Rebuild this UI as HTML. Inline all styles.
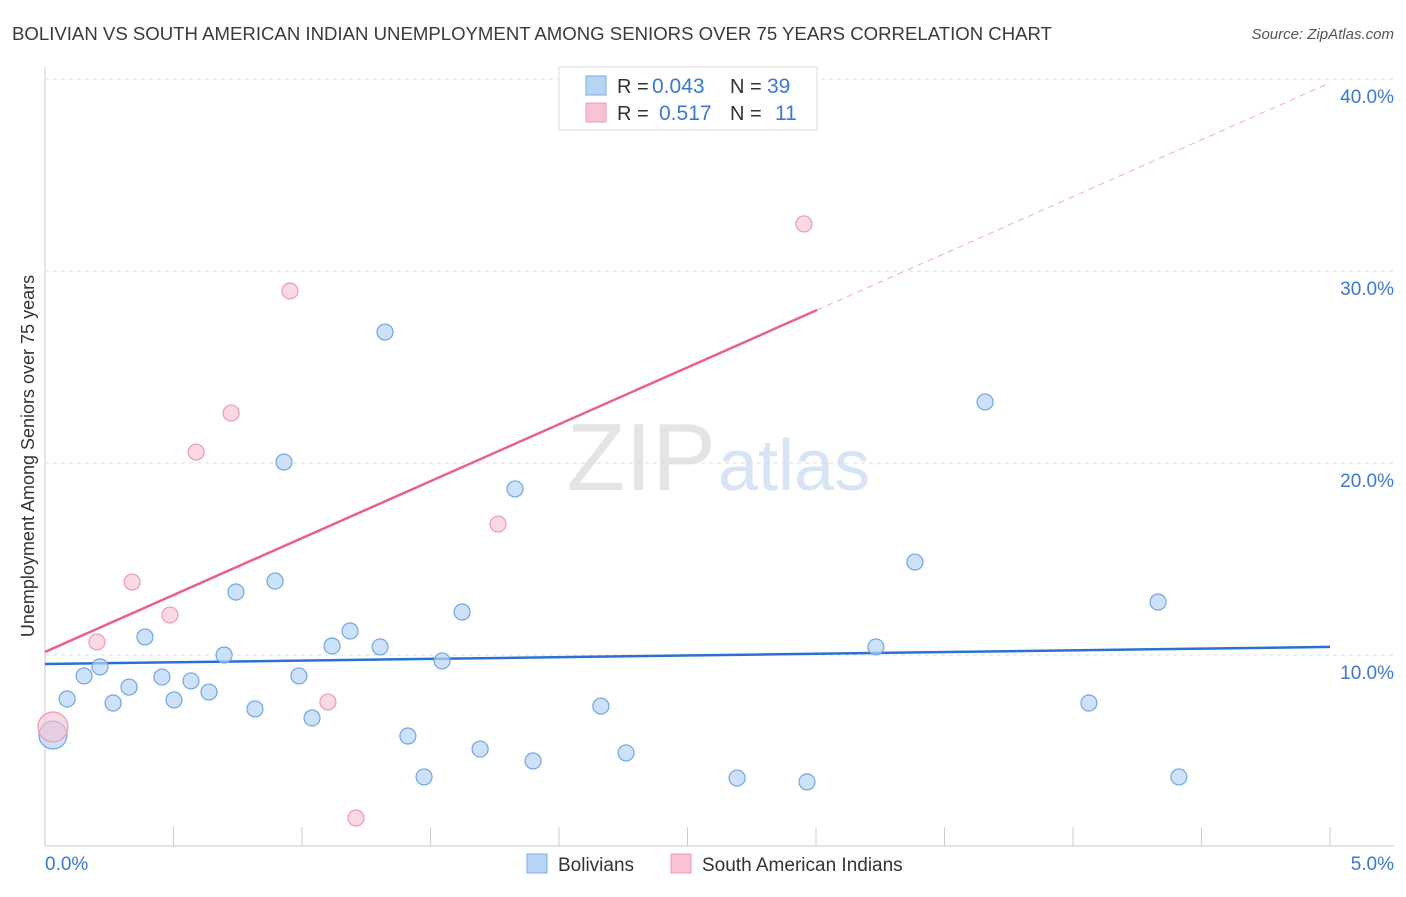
<!DOCTYPE html>
<html><head><meta charset="utf-8"><style>
body{margin:0;background:#fff;font-family:"Liberation Sans",sans-serif;}
svg text{font-family:"Liberation Sans",sans-serif;}
</style></head><body>
<svg id="chart" width="1406" height="892">
<text x="12" y="40" font-size="18" fill="#3a3a3a" textLength="1040" lengthAdjust="spacingAndGlyphs">BOLIVIAN VS SOUTH AMERICAN INDIAN UNEMPLOYMENT AMONG SENIORS OVER 75 YEARS CORRELATION CHART</text>
<text x="1394" y="39" font-size="15" fill="#555" text-anchor="end" font-style="italic">Source: ZipAtlas.com</text>
<text x="716" y="490" font-size="96" fill="#e4e4e4" text-anchor="end" font-family="Liberation Serif">ZIP</text>
<text x="718" y="490" font-size="72" fill="#d6e4f5">atlas</text>
<g id="grid"></g><g id="axes"></g><g id="trend"></g><g id="points"></g>
<text transform="translate(34,456) rotate(-90)" font-size="18" fill="#333" text-anchor="middle">Unemployment Among Seniors over 75 years</text>
<g>
<rect x="559" y="67" width="258" height="63" fill="#fff" stroke="#ddd"/>
<rect x="586" y="76" width="20" height="19" fill="#b8d4f5" stroke="#7aaee8"/>
<rect x="586" y="103" width="20" height="19" fill="#f8c4d4" stroke="#ee99b3"/>
<text x="617" y="93" font-size="20" fill="#333">R =</text>
<text x="652" y="93" font-size="21" fill="#3a78d4">0.043</text>
<text x="730" y="93" font-size="20" fill="#333">N =</text>
<text x="767" y="93" font-size="21" fill="#3a78d4">39</text>
<text x="617" y="120" font-size="20" fill="#333">R =</text>
<text x="659" y="120" font-size="21" fill="#3a78d4">0.517</text>
<text x="730" y="120" font-size="20" fill="#333">N =</text>
<text x="775" y="120" font-size="21" fill="#3a78d4">11</text>
</g>
<g>
<rect x="527" y="854" width="20" height="19" fill="#b8d4f5" stroke="#7aaee8"/>
<text x="558" y="871" font-size="19" fill="#333">Bolivians</text>
<rect x="671" y="854" width="20" height="19" fill="#f8c4d4" stroke="#ee99b3"/>
<text x="702" y="871" font-size="19" fill="#333">South American Indians</text>
</g>
</svg>
<script>
const blueX=[0.031,0.086,0.152,0.214,0.265,0.327,0.389,0.455,0.502,0.568,0.638,0.697,0.743,0.817,0.895,0.930,0.988,1.039,1.117,1.187,1.304,1.323,1.412,1.475,1.545,1.623,1.693,1.829,1.899,2.163,2.261,2.693,2.965,3.233,3.385,3.658,4.062,4.331,4.412];
const blueY=[5.83,7.71,8.91,9.38,7.5,8.33,10.94,8.85,7.66,8.65,8.07,10.0,13.28,7.19,13.85,20.05,8.91,6.72,10.47,11.25,10.42,26.82,5.78,3.65,9.69,12.24,5.1,18.65,4.48,7.34,4.9,3.59,3.39,10.42,14.84,23.18,7.5,12.76,3.65];
const pinkX=[0.031,0.202,0.339,0.486,0.588,0.724,0.953,1.101,1.210,1.763,2.953];
const pinkY=[6.25,10.68,13.8,12.08,20.57,22.6,28.96,7.55,1.51,16.82,32.45];
const yTicks=[10,20,30,40];
const yTickLabels=["10.0%","20.0%","30.0%","40.0%"];
const xTickLabels=["0.0%","5.0%"];
const blueTrend=[9.53,10.42];
const pinkTrend=[10.16,39.8];
const pinkSolidEnd=3.004;
const NS="http://www.w3.org/2000/svg";
const sx=v=>45+v*257, sy=v=>847-v*19.2;
function mk(t,a,p){const e=document.createElementNS(NS,t);for(const k in a)e.setAttribute(k,a[k]);p.appendChild(e);return e;}
const grid=document.getElementById('grid'),axes=document.getElementById('axes'),tr=document.getElementById('trend'),pts=document.getElementById('points');
yTicks.forEach((t,i)=>{
 const l=mk('line',{x1:45,x2:1394,y1:sy(t),y2:sy(t),stroke:'#ddd','stroke-dasharray':'4,4'},grid);
 
 
 const tx=mk('text',{x:1394,y:sy(t)+24,'font-size':19,fill:'#3a78d4','text-anchor':'end'},axes);tx.textContent=yTickLabels[i];
 
 
});
const ax=mk('line',{x1:45,x2:1394,y1:846,y2:846,stroke:'#ccc'},axes);


const ay=mk('line',{x1:45,x2:45,y1:67,y2:846,stroke:'#ccc'},axes);


for(let i=1;i<=10;i++){const t=mk('line',{x1:sx(i*0.5),x2:sx(i*0.5),y1:827,y2:846,stroke:'#ccc'},axes);
 
 }
[[0,'start',45],[5,'end',1394]].forEach((d,i)=>{const t=mk('text',{x:d[2],y:870,'font-size':19,fill:'#3a78d4','text-anchor':d[1]},axes);t.textContent=xTickLabels[i];
 
 });
const pe=pinkTrend[0]+(pinkTrend[1]-pinkTrend[0])*pinkSolidEnd/5;
const pd=mk('line',{x1:sx(pinkSolidEnd),y1:sy(pe),x2:sx(5),y2:sy(pinkTrend[1]),stroke:'#ec6f98','stroke-width':1,'stroke-dasharray':'6,5',opacity:0.6},tr);


const ps=mk('line',{x1:sx(0),y1:sy(pinkTrend[0]),x2:sx(pinkSolidEnd),y2:sy(pe),stroke:'#e8608c','stroke-width':2.5},tr);


const bl=mk('line',{x1:sx(0),y1:sy(blueTrend[0]),x2:sx(5),y2:sy(blueTrend[1]),stroke:'#2a70d4','stroke-width':2.5},tr);


blueX.forEach((x,i)=>{const c=mk('circle',{cx:sx(x),cy:sy(blueY[i]),r:i==0?14:8,fill:'rgba(184,212,245,0.7)',stroke:'#6fa6e6','stroke-width':1.2},pts);
 
 });
pinkX.forEach((x,i)=>{const c=mk('circle',{cx:sx(x),cy:sy(pinkY[i]),r:i==0?15:8,fill:'rgba(248,192,210,0.6)',stroke:'#ee99b3','stroke-width':1.2},pts);
 
 });
</script>
</body></html>
